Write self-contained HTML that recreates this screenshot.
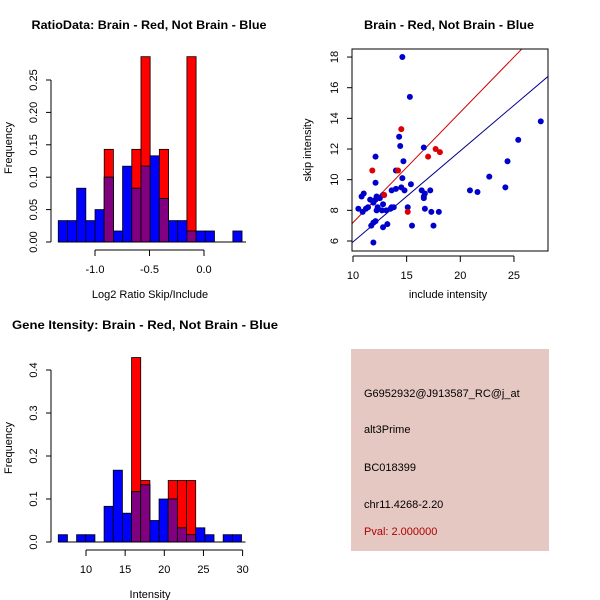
<!DOCTYPE html>
<html><head><meta charset="utf-8"><style>
html,body{margin:0;padding:0;background:#fff;}
svg{display:block;font-family:"Liberation Sans",sans-serif;}
</style></head><body>
<svg id="c" width="600" height="600" viewBox="0 0 600 600" xmlns="http://www.w3.org/2000/svg">
<rect x="0" y="0" width="600" height="600" fill="#fff"/>
<g id="p1"></g>
<g id="p2"></g>
<g id="p3"></g>
<g>
<rect x="351" y="349" width="198" height="202" fill="#E6C8C2"/>
<text x="364" y="397" font-size="11" fill="#000">G6952932@J913587_RC@j_at</text>
<text x="364" y="433" font-size="11" fill="#000">alt3Prime</text>
<text x="364" y="471" font-size="11" fill="#000">BC018399</text>
<text x="364" y="508" font-size="11" fill="#000">chr11.4268-2.20</text>
<text x="364" y="535" font-size="11" fill="#B00000">Pval: 2.000000</text>
</g>
</svg>
<script>
// Histogram 1 (log2 ratio)
const ratioBlue = [0.033,0.033,0.083,0.033,0.05,0.1,0.017,0.117,0.083,0.117,0.133,0.067,0.033,0.033,0.017,0.017,0.017,0,0,0.017];
const ratioRed  = [0,0,0,0,0,0.143,0,0,0.143,0.286,0,0.143,0,0,0.286,0,0,0,0,0];
const ratioStart = -1.337, ratioBin = 0.0843;
const ratioXTicks = [-1.0,-0.5,0.0];
const ratioXLabels = ["-1.0","-0.5","0.0"];
const ratioYTicks = [0,0.05,0.10,0.15,0.20,0.25];
const ratioYLabels = ["0.00","0.05","0.10","0.15","0.20","0.25"];
// Histogram 2 (intensity)
const intBlue = [0.017,0,0.017,0.017,0,0.083,0.167,0.067,0.117,0.133,0.05,0.1,0.1,0.033,0.017,0.033,0.017,0,0.017,0.017];
const intRed  = [0,0,0,0,0,0,0,0,0.429,0.143,0,0,0.143,0.143,0.143,0,0,0,0,0];
const intStart = 6.46, intBin = 1.17;
const intXTicks = [10,15,20,25,30];
const intYTicks = [0,0.1,0.2,0.3,0.4];
const intYLabels = ["0.0","0.1","0.2","0.3","0.4"];
// Scatter
const blueX = [14.6,15.3,27.5,25.4,14.3,14.4,16.6,12.1,14.7,24.4,14.0,14.6,12.1,15.4,22.7,20.9,21.6,24.2,16.4,17.2,14.5,14.8,14.0,13.6,11.0,10.8,12.8,12.2,12.5,11.6,12.1,11.9,16.6,16.6,16.7,15.1,16.7,17.3,18.0,13.6,13.8,12.8,13.5,12.3,12.2,12.7,13.1,11.4,11.2,10.5,10.9,15.5,17.5,11.7,11.9,12.1,12.8,13.2,11.9,12.9];
const blueY = [18.0,15.4,13.8,12.6,12.8,12.2,12.1,11.5,11.2,11.2,10.6,10.1,9.8,9.7,10.2,9.3,9.2,9.5,9.3,9.3,9.5,9.3,9.4,9.3,9.1,8.9,9.0,8.9,8.8,8.7,8.7,8.5,8.9,8.8,9.1,8.2,8.1,7.9,7.9,8.2,8.2,8.4,8.1,8.2,8.0,8.0,8.0,8.2,8.1,8.1,7.9,7.0,7.0,7.0,7.2,7.3,6.9,7.1,5.9,9.0];
const redX = [11.8,14.5,14.2,17.0,17.7,18.1,15.1,12.9];
const redY = [10.6,13.3,10.6,11.5,12.0,11.8,7.9,9.0];
const redSlope = 0.72, blueSlope = 0.594;
const scXTicks = [10,15,20,25];
const scYTicks = [6,8,10,12,14,16,18];

const NS = "http://www.w3.org/2000/svg";
function mk(parent, tag, attrs, txt){
  const e = document.createElementNS(NS, tag);
  for (const k in attrs) e.setAttribute(k, attrs[k]);
  if (txt !== undefined) e.textContent = txt;
  parent.appendChild(e);
  return e;
}

function hist(g, blue, red, start, bin, sx, sy, nameP){
  for (let i=0;i<blue.length;i++){
    const xa = sx(start+i*bin), xb = sx(start+(i+1)*bin);
    const b = blue[i], r = red[i];
    if (r>0){
      const e = mk(g,"rect",{x:xa,y:sy(r),width:xb-xa,height:sy(0)-sy(r),fill:"#FF0000",stroke:"#000","stroke-width":0.8});
      
      
    }
    if (b>0){
      const e = mk(g,"rect",{x:xa,y:sy(b),width:xb-xa,height:sy(0)-sy(b),fill:"#0000FF",stroke:"#000","stroke-width":0.8});
      
      
    }
    if (b>0 && r>0){
      const m = Math.min(b,r);
      const e = mk(g,"rect",{x:xa,y:sy(m),width:xb-xa,height:sy(0)-sy(m),fill:"#800080",stroke:"#000","stroke-width":0.8});
      
      
    }
  }
  mk(g,"line",{x1:sx(start),x2:sx(start+blue.length*bin)+4,y1:sy(0),y2:sy(0),stroke:"#000","stroke-width":1});
}

function yAxis(g, ticks, labels, sy, ax, nameP){
  mk(g,"line",{x1:ax,x2:ax,y1:sy(ticks[0]),y2:sy(ticks[ticks.length-1]),stroke:"#000"});
  ticks.forEach((t,i)=>{
    mk(g,"line",{x1:ax-5,x2:ax,y1:sy(t),y2:sy(t),stroke:"#000"});
    const e = mk(g,"text",{x:ax-18,y:sy(t)+4,"font-size":11,"text-anchor":"middle",transform:`rotate(-90 ${ax-18} ${sy(t)})`},labels[i]);
    
    
  });
}
function xAxis(g, ticks, labels, sx, ay, nameP){
  mk(g,"line",{x1:sx(ticks[0]),x2:sx(ticks[ticks.length-1]),y1:ay,y2:ay,stroke:"#000"});
  ticks.forEach((t,i)=>{
    mk(g,"line",{x1:sx(t),x2:sx(t),y1:ay,y2:ay+6,stroke:"#000"});
    const e = mk(g,"text",{x:sx(t),y:ay+23,"font-size":11,"text-anchor":"middle"},labels[i]);
    
    
  });
}
function title(g, x, y, s, w, name){
  const e = mk(g,"text",{x:x,y:y,"font-size":12,"font-weight":"bold","text-anchor":"middle",textLength:w,lengthAdjust:"spacingAndGlyphs"},s);
  
  
}
function label(g, x, y, s, rot, name){
  const a = {x:x,y:y,"font-size":11,"text-anchor":"middle"};
  if (rot) a.transform = `rotate(-90 ${x} ${y})`;
  const e = mk(g,"text",a,s);
  
  
}

// Panel 1
(function(){
  const g = document.getElementById("p1");
  const sx = v => 95 + (v+1.0)*109;
  const sy = v => 242 - v*648;
  hist(g, ratioBlue, ratioRed, ratioStart, ratioBin, sx, sy, "ratio");
  yAxis(g, ratioYTicks, ratioYLabels, sy, 51, "ratio");
  xAxis(g, ratioXTicks, ratioXLabels, sx, 250, "ratio");
  title(g, 149, 29, "RatioData: Brain - Red, Not Brain - Blue", 235, "ratio-title");
  label(g, 150, 298, "Log2 Ratio Skip/Include", false, "ratio-x-axis-title");
  label(g, 12, 148, "Frequency", true, "ratio-y-axis-title");
})();

// Panel 3
(function(){
  const g = document.getElementById("p3");
  const sx = v => 86 + (v-10)*7.83;
  const sy = v => 542 - v*430;
  hist(g, intBlue, intRed, intStart, intBin, sx, sy, "intensity");
  yAxis(g, intYTicks, intYLabels, sy, 51, "intensity");
  xAxis(g, intXTicks, intXTicks.map(String), sx, 550, "intensity");
  title(g, 145, 329, "Gene Itensity: Brain - Red, Not Brain - Blue", 266, "intensity-title");
  label(g, 150, 598, "Intensity", false, "intensity-x-axis-title");
  label(g, 12, 448, "Frequency", true, "intensity-y-axis-title");
})();

// Panel 2
(function(){
  const g = document.getElementById("p2");
  const sx = v => 353 + (v-10)*10.73;
  const sy = v => 241 - (v-6)*15.33;
  const cp = mk(g,"clipPath",{id:"scclip"});
  mk(cp,"rect",{x:352,y:49,width:196,height:202});
  const lg = mk(g,"g",{"clip-path":"url(#scclip)"});
  const rl = mk(lg,"line",{x1:sx(9),y1:sy(9*redSlope),x2:sx(29),y2:sy(29*redSlope),stroke:"#D00000","stroke-width":1});
  
  
  const bl = mk(lg,"line",{x1:sx(9),y1:sy(9*blueSlope),x2:sx(29),y2:sy(29*blueSlope),stroke:"#00008B","stroke-width":1});
  
  
  for (let i=0;i<blueX.length;i++){
    const e = mk(g,"circle",{cx:sx(blueX[i]),cy:sy(blueY[i]),r:3,fill:"#0000CC"});
    
    
  }
  for (let i=0;i<redX.length;i++){
    const e = mk(g,"circle",{cx:sx(redX[i]),cy:sy(redY[i]),r:3,fill:"#DD0000"});
    
    
  }
  mk(g,"rect",{x:352,y:49,width:196,height:202,fill:"none",stroke:"#000"});
  yAxis(g, scYTicks, scYTicks.map(String), sy, 352, "scatter");
  xAxis(g, scXTicks, scXTicks.map(String), sx, 256, "scatter");
  title(g, 449, 29, "Brain - Red, Not Brain - Blue", 170, "scatter-title");
  label(g, 448, 298, "include intensity", false, "scatter-x-axis-title");
  label(g, 311, 150, "skip intensity", true, "scatter-y-axis-title");
})();
</script>
</body></html>
